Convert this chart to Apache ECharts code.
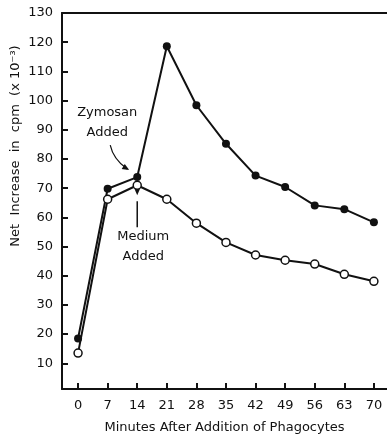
<!DOCTYPE html>
<html>
<head>
<meta charset="utf-8">
<script src="https://cdn.jsdelivr.net/npm/echarts@6/dist/echarts.min.js"></script>
<style>
  html, body { margin: 0; padding: 0; background: #fff; }
  #chart { width: 387px; height: 439px; }
</style>
</head>
<body>
<div id="chart"></div>
<script>
// minutes after addition of phagocytes
const minutes = [0, 7, 14, 21, 28, 35, 42, 49, 56, 63, 70];
// net increase in cpm (x 10^-3)
const zymosan = [18.5, 69.8, 73.8, 118.6, 98.4, 85.2, 74.3, 70.4, 64.1, 62.8, 58.3];
const medium = [13.5, 66.2, 71, 66.2, 58, 51.4, 47.1, 45.3, 44, 40.5, 38.1];
const xTicks = [0, 7, 14, 21, 28, 35, 42, 49, 56, 63, 70];
const yTicks = [10, 20, 30, 40, 50, 60, 70, 80, 90, 100, 110, 120, 130];

const ink = '#111';
const font = 'DejaVu Sans';

const chart = echarts.init(document.getElementById('chart'));

const pairs = (ys) => minutes.map((m, i) => [m, ys[i]]);

chart.setOption({
  animation: false,
  backgroundColor: '#fff',
  textStyle: { fontFamily: font, color: ink },
  grid: { left: 62, right: 0, top: 13, bottom: 46 },
  xAxis: [
    {
      type: 'value',
      min: -3.8,
      max: 73.1,
      axisLine: { onZero: false, lineStyle: { color: ink, width: 2 } },
      axisTick: { inside: true, length: 6, lineStyle: { color: ink, width: 2 }, customValues: xTicks },
      axisLabel: { customValues: xTicks, margin: 10, fontSize: 13, color: ink, fontFamily: font },
      splitLine: { show: false },
      name: 'Minutes After Addition of Phagocytes',
      nameLocation: 'middle',
      nameGap: 32,
      nameTextStyle: { fontSize: 13, color: ink, fontFamily: font }
    },
    {
      type: 'value',
      position: 'top',
      min: -3.8,
      max: 73.1,
      axisLine: { show: true, onZero: false, lineStyle: { color: ink, width: 2 } },
      axisTick: { show: false },
      axisLabel: { show: false },
      splitLine: { show: false }
    }
  ],
  yAxis: {
    type: 'value',
    min: 1.2,
    max: 130,
    axisLine: { show: true, onZero: false, lineStyle: { color: ink, width: 2 } },
    axisTick: { show: true, inside: true, length: 6, lineStyle: { color: ink, width: 2 }, customValues: yTicks },
    axisLabel: { customValues: yTicks, margin: 9, fontSize: 13, color: ink, fontFamily: font },
    splitLine: { show: false }
  },
  series: [
    {
      name: 'Zymosan',
      type: 'line',
      data: pairs(zymosan),
      symbol: 'circle',
      symbolSize: 8,
      lineStyle: { color: ink, width: 2 },
      itemStyle: { color: ink }
    },
    {
      name: 'Medium',
      type: 'line',
      data: pairs(medium),
      symbol: 'circle',
      symbolSize: 8,
      lineStyle: { color: ink, width: 2 },
      itemStyle: { color: '#fff', borderColor: ink, borderWidth: 1.5 }
    }
  ]
});

// annotations anchored on the 14 minute points
const zPt = chart.convertToPixel({ xAxisIndex: 0, yAxisIndex: 0 }, [minutes[2], zymosan[2]]);
const mPt = chart.convertToPixel({ xAxisIndex: 0, yAxisIndex: 0 }, [minutes[2], medium[2]]);

const txt = (x, y, text) => ({
  type: 'text', x: x, y: y,
  style: { text: text, font: '13px "DejaVu Sans"', fill: ink, align: 'center', verticalAlign: 'middle' }
});

const arrowHead = (x, y, angle) => ({
  type: 'polygon', x: x, y: y, rotation: angle,
  shape: { points: [[0, 0], [-7, -3], [-7, 3]] },
  style: { fill: ink }
});

chart.setOption({
  graphic: [
    {
      type: 'text', x: 16, y: 146, rotation: Math.PI / 2,
      style: { text: 'Net  Increase  in  cpm  (x 10⁻³)', font: '13px "DejaVu Sans"', fill: ink, align: 'center', verticalAlign: 'middle' }
    },
    txt(zPt[0] - 30, zPt[1] - 64, 'Zymosan'),
    txt(zPt[0] - 30, zPt[1] - 44, 'Added'),
    {
      type: 'bezierCurve',
      shape: {
        x1: zPt[0] - 27, y1: zPt[1] - 32,
        x2: zPt[0] - 10, y2: zPt[1] - 8,
        cpx1: zPt[0] - 24, cpy1: zPt[1] - 18
      },
      style: { stroke: ink, lineWidth: 1.2, fill: null }
    },
    arrowHead(zPt[0] - 8, zPt[1] - 7, -Math.atan2(6, 10)),
    txt(mPt[0] + 6, mPt[1] + 51, 'Medium'),
    txt(mPt[0] + 6, mPt[1] + 71, 'Added'),
    {
      type: 'line',
      shape: { x1: mPt[0], y1: mPt[1] + 42, x2: mPt[0], y2: mPt[1] + 16 },
      style: { stroke: ink, lineWidth: 1.5 }
    },
    arrowHead(mPt[0], mPt[1] + 10, -Math.PI / 2)
  ]
});
</script>
</body>
</html>
